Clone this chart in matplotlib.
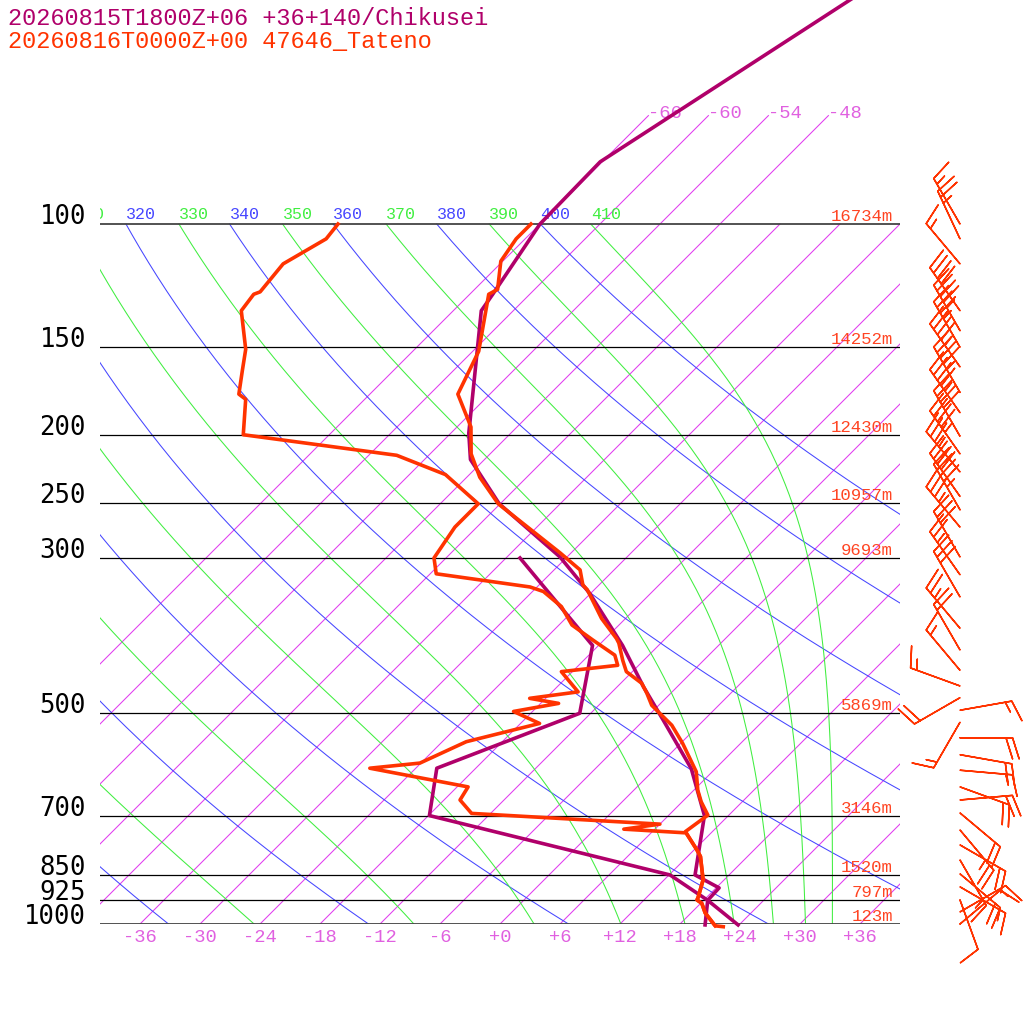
import numpy as np
import matplotlib
matplotlib.use("Agg")
import matplotlib.pyplot as plt

# ---- chart data ----
title1 = "20260815T1800Z+06 +36+140/Chikusei"
title2 = "20260816T0000Z+00 47646_Tateno"

# Chikusei forecast (purple)
chik_p = [1003, 925, 888, 851, 700, 600, 511, 458, 400, 337, 299, 251, 217, 199, 133, 126, 100, 81.5, 30]
chik_t = [23.9, 18.4, 18.3, 14.6, 9.6, 3.6, -4.1, -9.4, -15.6, -24.1, -30.7, -42.1, -49.4, -52.2,
          -63.2, -63.7, -66.0, -66.2, -49.7]
chik_td_p = [1003, 925, 851, 700, 599, 500, 400, 300]
chik_td = [20.6, 18.4, 12.1, -17.9, -21.9, -13.1, -18.6, -34.6]

# Tateno sounding (red)
obs_p = [1009, 1006, 964, 934, 924, 914, 865, 801, 784, 738, 699, 669, 644, 606, 552, 520, 500, 487,
         468, 453, 436, 420, 397, 391, 366, 333, 328, 312, 295, 251, 230, 213, 195, 175, 152, 126,
         124, 113, 105, 100]
obs_t = [22.6, 21.7, 19.4, 18.1, 17.3, 17.1, 15.9, 13.3, 12.3, 9.3, 9.9, 7.9, 6.4, 4.4, 0.2, -2.7,
         -5.1, -6.7, -8.4, -9.9, -12.6, -14.1, -16.2, -16.9, -20.4, -24.7, -25.6, -27.4, -31.1,
         -42.2, -46.7, -49.9, -52.6, -57.2, -59.4, -64.1, -63.7, -66.2, -66.9, -66.9]
obs_td_p = [1006, 964, 934, 924, 914, 865, 801, 784, 741, 732, 720, 695, 665, 637, 599, 589, 549,
            517, 497, 484, 476, 466, 436, 427, 413, 393, 374, 352, 335, 330, 316, 300, 271, 251,
            228, 214, 200, 178, 175, 162, 151, 133, 126, 125, 114, 105, 100]
obs_td = [21.7, 19.4, 18.1, 17.3, 17.1, 15.9, 13.3, 12.3, 9.5, 2.9, 6.0, -13.9, -16.4, -16.9,
          -28.6, -24.1, -21.6, -16.1, -19.9, -16.2, -19.6, -15.4, -19.1, -14.1, -15.4, -19.1,
          -22.7, -25.6, -28.9, -30.7, -41.4, -43.2, -44.2, -44.2, -50.4, -57.2, -74.6, -77.9,
          -79.1, -81.1, -82.9, -87.2, -87.6, -87.2, -87.7, -85.9, -86.2]

# Tateno winds (direction deg, speed kt)
wind_p = [100, 105, 114, 133, 142, 150, 160, 174, 186, 201, 213, 226, 245, 256, 271, 299, 317, 341,
          378, 406, 434, 457, 475, 495, 515, 542, 573, 603, 637, 665, 694, 734, 771, 810, 848, 885,
          924, 961, 1000]
wind_dir = [330, 335, 320, 325, 330, 330, 325, 330, 325, 330, 325, 320, 325, 330, 320, 330, 325,
            330, 320, 330, 320, 290, 240, 80, 210, 90, 100, 95, 110, 85, 130, 140, 120, 150, 130,
            120, 160, 60, 50]
wind_spd = [15, 25, 15, 40, 45, 35, 45, 45, 45, 40, 45, 35, 40, 45, 35, 30, 25, 30, 25, 20, 15, 15,
            20, 15, 15, 20, 20, 15, 20, 20, 20, 25, 20, 15, 20, 15, 10, 15, 10]

# standard levels and their heights
std_p = [100, 150, 200, 250, 300, 500, 700, 850, 925, 1000]
std_z = ["16734m", "14252m", "12430m", "10957m", "9693m", "5869m", "3146m", "1520m", "797m", "123m"]

iso_temps = list(range(-66, 37, 6))
iso_high = [-66, -60, -54, -48]
dry_thetas = list(range(240, 401, 20))
moist_thetas = list(range(250, 411, 20))
bottom_ticks = list(range(-36, 37, 6))

# ---- styling ----
SKEW = 30.4
P_TOP = 1000 * np.exp(-924 / 304)
RED = "#ff3300"
PURPLE = "#b0006a"
ISO = "#e03cf0"
ISO_TXT = "#e060e0"
DRY = "#4646ff"
MOIST = "#40ee40"
MONO = "Liberation Mono"


def skx(t, p):
    return np.asarray(t, float) + SKEW * np.log(1000.0 / np.asarray(p, float))


def theta_e_sat(tk, p):
    tc = tk - 273.15
    e = 6.112 * np.exp(17.67 * tc / (tc + 243.5))
    r = 0.622 * e / (p - e)
    return tk * (1000.0 / p) ** (0.2854 * (1 - 0.28 * r)) * \
        np.exp((3.376 / tk - 0.00254) * r * 1000 * (1 + 0.81 * r))


def moist_t(theta_e, p):
    lo = np.full_like(p, 150.0)
    hi = np.full_like(p, 310.0)
    for _ in range(60):
        mid = 0.5 * (lo + hi)
        big = theta_e_sat(mid, p) > theta_e
        hi = np.where(big, mid, hi)
        lo = np.where(big, lo, mid)
    return 0.5 * (lo + hi) - 273.15


fig = plt.figure(figsize=(10.24, 10.24), dpi=100)
ax = fig.add_axes([100 / 1024, 100 / 1024, 800 / 1024, 924 / 1024])
ax.set_yscale("log")
ax.set_ylim(1000, P_TOP)
ax.set_xlim(-40, 40)
ax.axis("off")

pp = np.geomspace(1000, 100, 200)


def theta_label(x, text, color):
    # labels sit on the 100 hPa line; the leftmost one is cut by the plot edge
    if x > -44:
        ax.text(x, 100 * np.exp(-5 / 304), text, color=color, fontsize=12, family=MONO,
                ha="left", va="baseline", clip_on=True)


# isotherms
for t in iso_temps:
    ptop = 70 if t in iso_high else 100
    ax.plot(skx([t, t], [1000, ptop]), [1000, ptop], color=ISO, lw=0.75, zorder=1)
    if t in iso_high:
        ax.text(skx(t, ptop), ptop * np.exp(-2 / 304), f"{t:+d}", color=ISO_TXT, fontsize=13.5,
                family=MONO, ha="left", va="center")

# dry adiabats
for th in dry_thetas:
    tt = th * (pp / 1000.0) ** 0.2857 - 273.15
    ax.plot(skx(tt, pp), pp, color=DRY, lw=0.75, zorder=1)
    theta_label(skx(tt[-1], 100), str(th), DRY)

# moist adiabats
for th in moist_thetas:
    tt = moist_t(th, pp)
    ax.plot(skx(tt, pp), pp, color=MOIST, lw=0.75, zorder=1)
    theta_label(skx(tt[-1], 100), str(th), MOIST)

# pressure lines, labels, heights
for p, z in zip(std_p, std_z):
    edge = p in (100, 1000)
    ax.plot([-40, 40], [p, p], color="#444444" if edge else "black", lw=1.3 if edge else 0.9,
            zorder=2)
    ax.text(-41.4, p, str(p), fontsize=18.5, family="DejaVu Sans Mono", ha="right",
            va="baseline", clip_on=False)
    ax.text(39.3, p * np.exp(-3 / 304), z, color="#ff4422", fontsize=12.5, family=MONO,
            ha="right", va="baseline")

for t in bottom_ticks:
    ax.text(t, 1000 * np.exp(13 / 304), f"{t:+d}", color=ISO_TXT, fontsize=13.5, family=MONO,
            ha="center", va="center", clip_on=False)

# profiles
ax.plot(skx(chik_t, chik_p), chik_p, color=PURPLE, lw=2.6, zorder=4, clip_on=False)
ax.plot(skx(chik_td, chik_td_p), chik_td_p, color=PURPLE, lw=2.6, zorder=4, clip_on=False)
ax.plot(skx(obs_t, obs_p), obs_p, color=RED, lw=2.6, zorder=5, clip_on=False)
ax.plot(skx(obs_td, obs_td_p), obs_td_p, color=RED, lw=2.6, zorder=5, clip_on=False)

# winds
wd = np.radians(wind_dir)
u = -np.array(wind_spd) * np.sin(wd)
v = -np.array(wind_spd) * np.cos(wd)
ax.barbs(np.full(len(wind_p), 46.0), wind_p, u, v, length=8.7, pivot="tip", color=RED,
         linewidth=1.1, clip_on=False, zorder=6)

fig.text(8 / 1024, 1 - 25 / 1024, title1, color=PURPLE, fontsize=17, family=MONO, va="baseline")
fig.text(8 / 1024, 1 - 48 / 1024, title2, color=RED, fontsize=17, family=MONO, va="baseline")

fig.savefig("out.png", dpi=100, facecolor="white")
